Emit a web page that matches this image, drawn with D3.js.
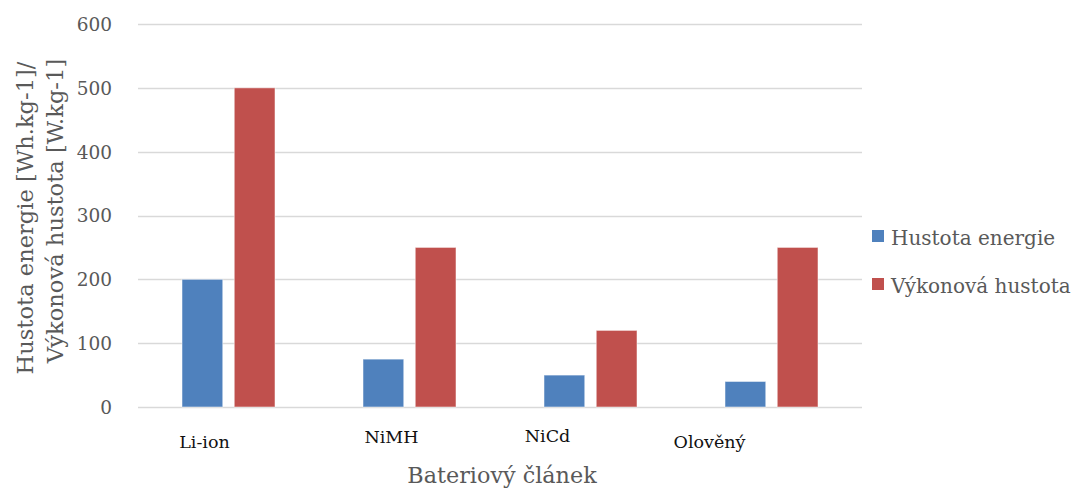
<!DOCTYPE html>
<html>
<head>
<meta charset="utf-8">
<script src="https://cdn.jsdelivr.net/npm/d3@7"></script>
<style>
  html, body { margin: 0; padding: 0; background: #fff; }
  svg { display: block; }
  text { font-family: "DejaVu Serif", "Liberation Serif", serif; }
</style>
</head>
<body>
<svg id="chart" width="1082" height="489"></svg>
<script>
// Battery cell comparison: energy density vs power density
const categories = ["Li-ion", "NiMH", "NiCd", "Olověný"];
const seriesNames = ["Hustota energie", "Výkonová hustota"];
const energyDensity = [200, 75, 50, 40];
const powerDensity = [500, 250, 120, 250];
const yTicks = [0, 100, 200, 300, 400, 500, 600];
const yTitleLines = ["Hustota energie [Wh.kg-1]/", "Výkonová hustota [W.kg-1]"];
const xTitle = "Bateriový článek";

const colors = ["#4f81bd", "#c0504d"];
// category labels sit slightly off their band centres
const labelShift = [[-24, 41], [-18, 36], [-43, 35], [-62, 41]];

const svg = d3.select("#chart");
const plot = { left: 138, right: 862, top: 24, bottom: 407 };

const x = d3.scaleBand()
  .domain(categories)
  .range([plot.left, plot.right])
  .paddingInner(0).paddingOuter(0);

const x1 = d3.scaleBand()
  .domain(seriesNames)
  .range([0, 93])
  .paddingInner(0.22);

const y = d3.scaleLinear()
  .domain([0, 600])
  .range([plot.bottom, plot.top]);

// gridlines
svg.append("g")
  .selectAll("line")
  .data(yTicks)
  .join("line")
  .attr("x1", plot.left).attr("x2", plot.right)
  .attr("y1", d => Math.round(y(d)) + 0.5)
  .attr("y2", d => Math.round(y(d)) + 0.5)
  .attr("stroke", "#d9d9d9")
  .attr("stroke-width", 1.5);

// y axis tick labels
const yAxis = d3.axisLeft(y).tickValues(yTicks).tickSize(0).tickPadding(0);
const gy = svg.append("g")
  .attr("transform", `translate(${plot.left - 26},0)`)
  .call(yAxis);
gy.select(".domain").remove();
gy.selectAll("text")
  .attr("font-family", "DejaVu Serif")
  .attr("font-size", 18.5)
  .attr("fill", "#595959")
  .attr("dy", "0.35em");

// bars
const data = categories.map((c, i) => ({ cat: c, values: [energyDensity[i], powerDensity[i]] }));
const groups = svg.append("g")
  .selectAll("g")
  .data(data)
  .join("g")
  .attr("transform", d => `translate(${x(d.cat) + x.bandwidth() / 2 - 46.5},0)`);

groups.selectAll("rect")
  .data(d => d.values.map((v, j) => ({ name: seriesNames[j], v, j })))
  .join("rect")
  .attr("x", d => x1(d.name))
  .attr("width", x1.bandwidth())
  .attr("y", d => y(d.v))
  .attr("height", d => y(0) - y(d.v))
  .attr("fill", d => colors[d.j])
  .attr("stroke", "#ffffff")
  .attr("stroke-opacity", 0.5)
  .attr("stroke-width", 1);

// category labels
svg.append("g")
  .selectAll("text")
  .data(categories)
  .join("text")
  .attr("x", (d, i) => x(d) + x.bandwidth() / 2 + labelShift[i][0])
  .attr("y", (d, i) => plot.bottom + labelShift[i][1])
  .attr("text-anchor", "middle")
  .attr("font-size", 17.5)
  .attr("fill", "#111")
  .text(d => d);

// x axis title
svg.append("text")
  .attr("x", 502)
  .attr("y", 483)
  .attr("text-anchor", "middle")
  .attr("font-size", 22.3)
  .attr("fill", "#595959")
  .text(xTitle);

// y axis title (two lines, rotated)
const yt = svg.append("text")
  .attr("transform", "translate(33,214) rotate(-90)")
  .attr("text-anchor", "middle")
  .attr("font-size", 22.6)
  .attr("fill", "#595959");
yt.selectAll("tspan")
  .data(yTitleLines)
  .join("tspan")
  .attr("x", (d, i) => i === 0 ? -4 : 3)
  .attr("y", (d, i) => i * 30)
  .text(d => d);

// legend
const legend = svg.append("g")
  .selectAll("g")
  .data(seriesNames)
  .join("g")
  .attr("transform", (d, i) => `translate(872,${230 + i * 48})`);
legend.append("rect")
  .attr("width", 12).attr("height", 12)
  .attr("fill", (d, i) => colors[i]);
legend.append("text")
  .attr("x", 19)
  .attr("y", 13)
  .attr("dy", "0.1em")
  .attr("font-size", 20)
  .attr("fill", "#595959")
  .text(d => d);
</script>
</body>
</html>
